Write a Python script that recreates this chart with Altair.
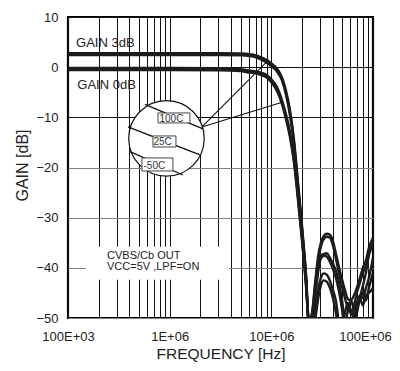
import altair as alt
import pandas as pd

# ---------------- data ----------------
FREQ_HZ = [1.0e5, 1.0e6, 3.12e6, 4.91e6, 6.16e6, 7.06e6, 8.08e6, 9.05e6, 10.1e6, 11.4e6,
           12.7e6, 13.9e6, 15.2e6, 16.7e6, 18.3e6, 20.0e6, 21.9e6,
           23.4e6, 25.1e6, 26.8e6, 28.7e6, 30.7e6, 32.9e6, 35.2e6, 37.7e6, 40.3e6, 43.2e6,
           46.2e6, 49.4e6, 52.9e6, 56.6e6, 60.6e6, 64.9e6, 69.4e6, 74.3e6, 79.5e6, 85.2e6,
           91.1e6, 100e6]

GAIN3_100C = [2.8, 2.8, 2.8, 2.75, 2.6, 2.35, 1.9, 1.4, 0.7, -0.3, -2.0, -4.6, -8.4, -14.5, -23.0, -31.5, -41.0,
              -50.5, -49, -43.5, -38, -35, -33.6, -33.2, -33.4, -34.6, -37.2, -39.8, -42.2, -44.4, -46.2,
              -46.5, -45.5, -44, -42, -40, -38.5, -36, -34]
GAIN3_25C = [2.6, 2.6, 2.6, 2.55, 2.4, 2.15, 1.65, 1.15, 0.4, -0.6, -2.3, -5.0, -8.9, -15.0, -23.5, -32.0, -41.5,
             -51, -52, -46, -40.5, -37.6, -37.2, -37.1, -38, -39.1, -40.6, -42.8, -46.2, -51, -54,
             -53, -51, -49, -46, -43.6, -41, -37.5, -35.5]
GAIN3_M50C = [2.4, 2.4, 2.4, 2.35, 2.2, 1.95, 1.45, 0.9, 0.1, -0.9, -2.6, -5.4, -9.4, -15.5, -24.0, -32.5, -42.0,
              -52, -55, -50, -45, -42, -41.1, -41.4, -42.6, -44.4, -46.6, -51, -55, -52, -48.5,
              -46.5, -48, -47, -46, -47.5, -45.5, -45, -44]
GAIN0_100C = [-0.15, -0.15, -0.2, -0.4, -0.7, -0.85, -1.15, -1.6, -2.5, -4.0, -6.5, -9.3, -12.8, -18.0, -25.5, -33.5, -42.5,
              -51, -49.5, -44, -38.8, -35.8, -34.2, -33.8, -34.0, -35.5, -38.2, -41, -43.5, -46, -48,
              -49, -47.5, -45, -43, -41, -39.5, -37, -35]
GAIN0_25C = [-0.35, -0.35, -0.4, -0.6, -0.9, -1.05, -1.4, -1.85, -2.8, -4.4, -6.9, -9.8, -13.3, -18.5, -26.0, -34.0, -43.0,
             -51, -52.5, -47, -41.2, -38.2, -37.6, -37.8, -38.8, -40.2, -42, -44.6, -48, -53, -55,
             -52, -49, -47, -45.5, -46, -44, -42, -38]
GAIN0_M50C = [-0.55, -0.55, -0.6, -0.8, -1.1, -1.25, -1.65, -2.1, -3.1, -4.8, -7.3, -10.3, -13.8, -19.0, -26.5, -34.5, -43.5,
              -52, -55, -51, -46.5, -43.5, -42.5, -42.8, -44, -46, -49, -53, -52, -49, -47,
              -48.5, -50, -48, -46.5, -45, -46.5, -44, -41]

SERIES = {
    "GAIN 3dB 100C": GAIN3_100C, "GAIN 3dB 25C": GAIN3_25C, "GAIN 3dB -50C": GAIN3_M50C,
    "GAIN 0dB 100C": GAIN0_100C, "GAIN 0dB 25C": GAIN0_25C, "GAIN 0dB -50C": GAIN0_M50C,
}

X_TICKS = [100000, 1000000, 10000000, 100000000]
X_TICK_LABELS = ["100E+03", "1E+06", "10E+06", "100E+06"]
X_GRID = [m * 10 ** e for e in (5, 6, 7) for m in range(1, 10)] + [100000000]
Y_TICKS = [10, 0, -10, -20, -30, -40, -50]

# annotations (data coordinates: Hz, dB)
GAIN_TEXT = ["GAIN 3dB", "GAIN 0dB"]
GAIN_TEXT_F = [1.20e5, 1.235e5]
GAIN_TEXT_DB = [4.1, -4.4]

NOTE_TEXT = ["CVBS/Cb OUT", "VCC=5V ,LPF=ON"]
NOTE_F = [2.42e5, 2.42e5]
NOTE_DB = [-38.3, -40.45]
NOTE_BOX = dict(f=[1.50e5], f2=[3.83e6], db=[-35.8], db2=[-42.4])

LENS_F, LENS_DB = [9.30e5], [-14.2]
TEMP_LABELS = ["100C", "25C", "-50C"]
TEMP_LINE_F = [5.71e5, 3.89e5, 4.07e5]
TEMP_LINE_DB = [-7.43, -11.92, -16.84]
TEMP_LINE_F2 = [2.125e6, 1.986e6, 1.351e6]
TEMP_LINE_DB2 = [-12.32, -17.50, -21.49]
TEMP_BOX_F = [7.67e5, 6.85e5, 5.34e5]
TEMP_BOX_F2 = [1.583e6, 1.153e6, 1.077e6]
TEMP_BOX_DB = [-9.13, -13.71, -18.10]
TEMP_BOX_DB2 = [-11.12, -15.91, -20.69]
TEMP_TEXT_F = [7.94e5, 6.93e5, 5.53e5]
TEMP_TEXT_DB = [-10.98, -15.51, -20.35]

POINTER_F = [2.078e6, 2.078e6]
POINTER_DB = [-11.92, -11.92]
POINTER_F2 = [9.05e6, 13.0e6]
POINTER_DB2 = [1.10, -6.94]

# ---------------- chart ----------------
FONT = "Liberation Sans"
xs = alt.Scale(type="log", domain=[1e5, 1e8], nice=False)
ys = alt.Scale(domain=[-50, 10], nice=False)

rows = []
for name, vals in SERIES.items():
    for i, (f, g) in enumerate(zip(FREQ_HZ, vals)):
        rows.append({"series": name, "idx": i, "f": f, "db": g})
curves_df = pd.DataFrame(rows)

label_expr = " : ".join(
    f"datum.value == {v} ? '{t}'" for v, t in zip(X_TICKS, X_TICK_LABELS)
) + " : ''"

x_axis = alt.Axis(values=X_GRID, labelExpr=label_expr, labelOverlap=False, labelFlush=False,
                  labelOffset={"condition": {"test": f"datum.value == {X_TICKS[-1]}", "value": -8}, "value": 0},
                  ticks=False, domain=False, grid=True, gridColor="#111", gridWidth=1,
                  labelFont=FONT, labelFontSize=13, labelColor="#222", labelPadding=12,
                  title="FREQUENCY [Hz]", titleFont=FONT, titleFontSize=15.5, titleFontWeight="normal",
                  titleColor="#222", titleBaseline="alphabetic", titleY=40.5)
y_axis = alt.Axis(values=Y_TICKS, ticks=False, domain=False, grid=True,
                  gridColor={"condition": {"test": "datum.value <= -20", "value": "#808080"}, "value": "#111"},
                  gridWidth=1, labelFont=FONT, labelFontSize=13, labelColor="#222", labelPadding=10,
                  title="GAIN [dB]", titleFont=FONT, titleFontSize=16, titleFontWeight="normal",
                  titleColor="#222", titleAngle=-90, titleBaseline="alphabetic", titleX=-41, titleY=148)

X = lambda: alt.X("f:Q", scale=xs)
Y = lambda: alt.Y("db:Q", scale=ys)

curves = alt.Chart(curves_df).mark_line(clip=True, strokeWidth=2.4, color="#1c1c1c",
                                         interpolate="monotone").encode(
    x=alt.X("f:Q", scale=xs, axis=x_axis),
    y=alt.Y("db:Q", scale=ys, axis=y_axis),
    detail="series:N",
    order="idx:Q",
)

note_box = alt.Chart(pd.DataFrame(NOTE_BOX)).mark_rect(fill="white").encode(
    x=X(), x2="f2:Q", y=Y(), y2="db2:Q")

note_text = alt.Chart(pd.DataFrame({"t": NOTE_TEXT, "f": NOTE_F, "db": NOTE_DB})).mark_text(
    align="left", baseline="alphabetic", font=FONT, fontSize=11, color="#222").encode(
    x=X(), y=Y(), text="t:N")

gain_text = alt.Chart(pd.DataFrame({"t": GAIN_TEXT, "f": GAIN_TEXT_F, "db": GAIN_TEXT_DB})).mark_text(
    align="left", baseline="alphabetic", font=FONT, fontSize=13, color="#222").encode(
    x=X(), y=Y(), text="t:N")

pointers = alt.Chart(pd.DataFrame({"f": POINTER_F, "db": POINTER_DB, "f2": POINTER_F2, "db2": POINTER_DB2})
                     ).mark_rule(color="#111", strokeWidth=1.1).encode(
    x=X(), x2="f2:Q", y=Y(), y2="db2:Q")

lens = alt.Chart(pd.DataFrame({"f": LENS_F, "db": LENS_DB})).mark_point(
    shape="circle", size=5700, fill="white", stroke="#111", strokeWidth=1.2,
    opacity=1, fillOpacity=1, filled=False).encode(x=X(), y=Y())

temp_lines = alt.Chart(pd.DataFrame({"f": TEMP_LINE_F, "db": TEMP_LINE_DB,
                                     "f2": TEMP_LINE_F2, "db2": TEMP_LINE_DB2})
                       ).mark_rule(color="#111", strokeWidth=1.3).encode(
    x=X(), x2="f2:Q", y=Y(), y2="db2:Q")

temp_boxes = alt.Chart(pd.DataFrame({"f": TEMP_BOX_F, "f2": TEMP_BOX_F2,
                                     "db": TEMP_BOX_DB, "db2": TEMP_BOX_DB2})
                       ).mark_rect(fill="white", stroke="#444", strokeWidth=1).encode(
    x=X(), x2="f2:Q", y=Y(), y2="db2:Q")

temp_text = alt.Chart(pd.DataFrame({"t": TEMP_LABELS, "f": TEMP_TEXT_F, "db": TEMP_TEXT_DB})).mark_text(
    align="left", baseline="alphabetic", font=FONT, fontSize=10, color="#333").encode(
    x=X(), y=Y(), text="t:N")

chart = alt.layer(
    curves, note_box, note_text, gain_text, pointers, lens, temp_lines, temp_boxes, temp_text
).properties(
    width=305, height=301,
    autosize=alt.AutoSizeParams(type="none"),
    padding={"left": 60, "top": 9, "right": 19, "bottom": 45},
).configure_view(stroke="#000", strokeWidth=2.2)

chart.save("out.html", embed_options={"renderer": "svg", "actions": False})
